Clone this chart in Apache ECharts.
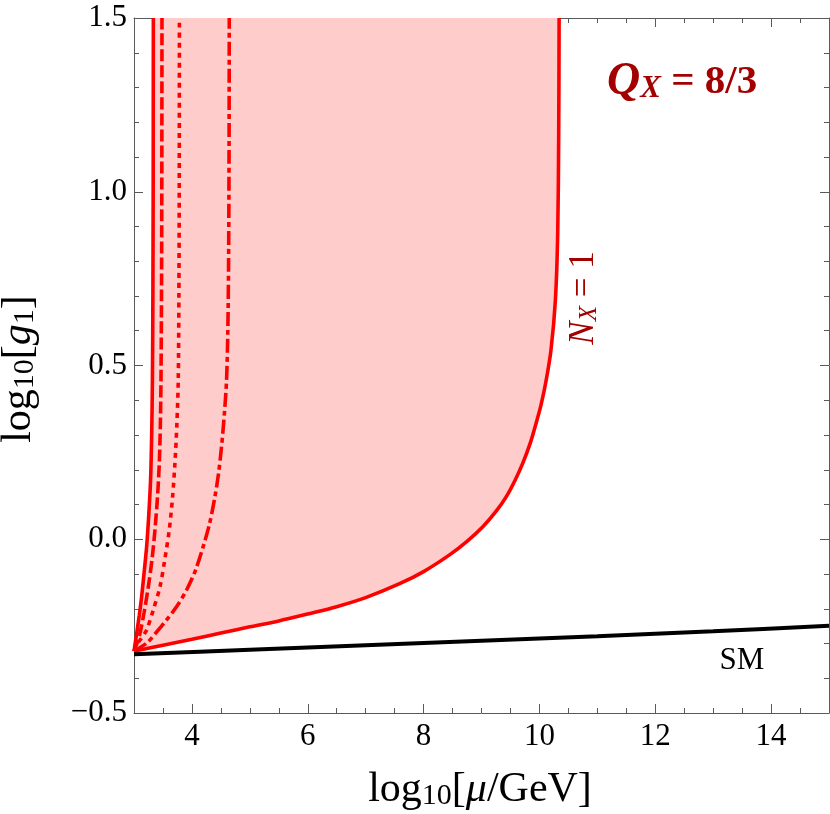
<!DOCTYPE html>
<html>
<head>
<meta charset="utf-8">
<script src="https://cdn.jsdelivr.net/npm/echarts@6/dist/echarts.min.js"></script>
<style>
  html, body { margin: 0; padding: 0; background: #fff; }
  #chart { width: 830px; height: 814px; }
</style>
</head>
<body>
<div id="chart"></div>
<script>
// ---------- data ----------
const xMajorTicks = [4, 6, 8, 10, 12, 14];
const yMajorTicks = [-0.5, 0, 0.5, 1, 1.5];
const yTickLabels = ['\u22120.5', '0.0', '0.5', '1.0', '1.5'];

// N_X = 1 boundary (right solid curve)
const curveNx1 = [[3.0,-0.322],[3.5,-0.305],[4.0,-0.288],[4.5,-0.270],[5.0,-0.252],[5.5,-0.235],[6.0,-0.215],[6.5,-0.194],[7.0,-0.168],[7.586,-0.128],[8.0,-0.093],[8.448,-0.045],[8.75,-0.006],[9.023,0.036],[9.25,0.080],[9.426,0.122],[9.58,0.170],[9.713,0.219],[9.84,0.276],[9.943,0.334],[10.03,0.388],[10.115,0.456],[10.2,0.545],[10.276,0.689],[10.316,0.880],[10.333,1.168],[10.34,1.5]];
// left-most solid curve
const curveSolidLeft = [[3.0,-0.322],[3.046,-0.271],[3.09,-0.220],[3.132,-0.165],[3.175,-0.095],[3.218,-0.021],[3.255,0.070],[3.286,0.170],[3.305,0.300],[3.318,0.458],[3.326,0.700],[3.331,1.000],[3.334,1.5]];
// dashed curve
const curveDashed = [[3.0,-0.322],[3.05,-0.300],[3.103,-0.271],[3.175,-0.210],[3.247,-0.137],[3.31,-0.060],[3.362,0.027],[3.405,0.120],[3.437,0.219],[3.455,0.330],[3.466,0.458],[3.475,0.700],[3.48,1.000],[3.483,1.5]];
// dotted curve
const curveDotted = [[3.0,-0.322],[3.05,-0.303],[3.13,-0.284],[3.218,-0.261],[3.33,-0.205],[3.448,-0.137],[3.53,-0.060],[3.609,0.027],[3.665,0.120],[3.707,0.219],[3.74,0.330],[3.764,0.458],[3.775,0.700],[3.781,1.000],[3.784,1.5]];
// dot-dashed curve
const curveDotDash = [[3.0,-0.322],[3.218,-0.299],[3.39,-0.267],[3.563,-0.232],[3.74,-0.193],[3.908,-0.146],[4.06,-0.090],[4.195,-0.021],[4.305,0.045],[4.397,0.122],[4.46,0.190],[4.511,0.266],[4.56,0.360],[4.598,0.458],[4.62,0.600],[4.633,0.800],[4.641,1.100],[4.645,1.5]];
// Standard Model line
const curveSM = [[3,-0.331],[5,-0.318],[7,-0.305],[9,-0.292],[11,-0.279],[13,-0.265],[15,-0.249]];

// ---------- styling ----------
const FRAME = '#5a5a5a';
const RED = '#ff0000';
const DARKRED = '#a30000';
const SERIF = '"Liberation Serif", "DejaVu Serif", serif';

const chart = echarts.init(document.getElementById('chart'), null, { renderer: 'canvas' });

function xAxisCfg(pos, major, showLine) {
  const cfg = {
    type: 'value', min: 3, max: 15, position: pos, gridIndex: 0,
    axisLine: { show: showLine, onZero: false, lineStyle: { color: FRAME, width: 1 } },
    splitLine: { show: false },
    axisTick: { show: true, inside: true, length: major ? 9 : 5, lineStyle: { color: FRAME, width: 1 } },
    axisLabel: { show: false }
  };
  if (major) {
    cfg.axisTick.customValues = xMajorTicks;
    cfg.axisLabel = {
      show: pos === 'bottom', customValues: xMajorTicks, margin: 8,
      fontFamily: SERIF, fontSize: 31, color: '#000',
      formatter: v => String(v)
    };
  } else {
    cfg.interval = 0.5;
  }
  return cfg;
}
function yAxisCfg(pos) {
  return {
    type: 'value', min: -0.5, max: 1.5, interval: 0.5, position: pos, gridIndex: 0,
    axisLine: { show: true, onZero: false, lineStyle: { color: FRAME, width: 1 } },
    splitLine: { show: false },
    axisTick: { show: true, inside: true, length: 9, lineStyle: { color: FRAME, width: 1 } },
    minorTick: { show: true, splitNumber: 5, length: 5, lineStyle: { color: FRAME, width: 1 } },
    minorSplitLine: { show: false },
    axisLabel: {
      show: pos === 'left', margin: 7, fontFamily: SERIF, fontSize: 31, color: '#000',
      formatter: v => {
        const i = yMajorTicks.findIndex(t => Math.abs(t - v) < 1e-9);
        return i >= 0 ? yTickLabels[i] : '';
      }
    }
  };
}

function lineSeries(name, data, color, width, type) {
  return {
    name, type: 'line', data, xAxisIndex: 0, yAxisIndex: 0,
    showSymbol: false, symbol: 'none', smooth: 0.3, clip: true, silent: true,
    lineStyle: { color, width, type, cap: 'butt' }
  };
}

const option = {
  animation: false,
  backgroundColor: '#fff',
  grid: { left: 134, right: 1, top: 18, bottom: 101, containLabel: false, outerBoundsMode: 'none' },
  xAxis: [
    xAxisCfg('bottom', true, true),
    xAxisCfg('bottom', false, false),
    xAxisCfg('top', true, true),
    xAxisCfg('top', false, false)
  ],
  yAxis: [yAxisCfg('left'), yAxisCfg('right')],
  series: [
    {
      name: 'region', type: 'custom', coordinateSystem: 'cartesian2d',
      xAxisIndex: 0, yAxisIndex: 0, data: [[0]], clip: true, silent: true,
      renderItem: (params, api) => {
        const pts = curveSolidLeft.map(p => api.coord(p))
          .concat(curveNx1.slice().reverse().map(p => api.coord(p)));
        return { type: 'polygon', shape: { points: pts }, style: { fill: '#ffcccc', stroke: null } };
      }
    },
    lineSeries('Nx1', curveNx1, RED, 3.6, 'solid'),
    lineSeries('left', curveSolidLeft, RED, 3.6, 'solid'),
    lineSeries('dashed', curveDashed, RED, 3.6, [12, 4]),
    lineSeries('dotted', curveDotted, RED, 3.6, [5, 5]),
    lineSeries('dotdash', curveDotDash, RED, 3.6, [14, 4, 5, 4]),
    lineSeries('SM', curveSM, '#000', 4, 'solid')
  ],
  graphic: [
    {
      type: 'text', x: 19, y: 369, rotation: Math.PI / 2, silent: true,
      style: {
        text: '{a|log}{s|10}{a|[}{i|g}{s|1}{a|]}', align: 'center', verticalAlign: 'middle', fill: '#000',
        rich: {
          a: { fontFamily: SERIF, fontSize: 42, lineHeight: 42, fill: '#000' },
          i: { fontFamily: SERIF, fontSize: 42, lineHeight: 42, fontStyle: 'italic', fill: '#000' },
          s: { fontFamily: SERIF, fontSize: 30, lineHeight: 22, verticalAlign: 'bottom', fill: '#000' }
        }
      }
    },
    {
      type: 'text', x: 480, y: 790, silent: true,
      style: {
        text: '{a|log}{s|10}{a|[}{i|\u03bc}{a|/GeV]}', align: 'center', verticalAlign: 'middle', fill: '#000',
        rich: {
          a: { fontFamily: SERIF, fontSize: 42, lineHeight: 42, fill: '#000' },
          i: { fontFamily: SERIF, fontSize: 42, lineHeight: 42, fontStyle: 'italic', fill: '#000' },
          s: { fontFamily: SERIF, fontSize: 30, lineHeight: 22, verticalAlign: 'bottom', fill: '#000' }
        }
      }
    },
    {
      type: 'text', x: 607, y: 60, silent: true,
      style: {
        text: '{q|Q}{s|X}{r| = 8/3}', align: 'left', verticalAlign: 'top', fill: DARKRED,
        rich: {
          q: { fontFamily: SERIF, fontSize: 46, lineHeight: 44, fontStyle: 'italic', fontWeight: 'bold', fill: DARKRED },
          s: { fontFamily: SERIF, fontSize: 31, lineHeight: 16, verticalAlign: 'bottom', fontStyle: 'italic', fontWeight: 'bold', fill: DARKRED },
          r: { fontFamily: SERIF, fontSize: 41, lineHeight: 44, fontWeight: 'bold', fill: DARKRED }
        }
      }
    },
    {
      type: 'text', x: 584, y: 298, rotation: Math.PI / 2, silent: true,
      style: {
        text: '{n|N}{s|X}{r| = 1}', align: 'center', verticalAlign: 'middle', fill: DARKRED,
        rich: {
          n: { fontFamily: SERIF, fontSize: 35, lineHeight: 35, fontStyle: 'italic', fill: DARKRED },
          s: { fontFamily: SERIF, fontSize: 25, lineHeight: 18, verticalAlign: 'bottom', fontStyle: 'italic', fill: DARKRED },
          r: { fontFamily: SERIF, fontSize: 35, lineHeight: 35, fill: DARKRED }
        }
      }
    },
    {
      type: 'text', x: 742, y: 661, silent: true,
      style: { text: 'SM', align: 'center', verticalAlign: 'middle', fontFamily: SERIF, fontSize: 31, fill: '#000' }
    }
  ]
};
chart.setOption(option);
</script>
</body>
</html>
